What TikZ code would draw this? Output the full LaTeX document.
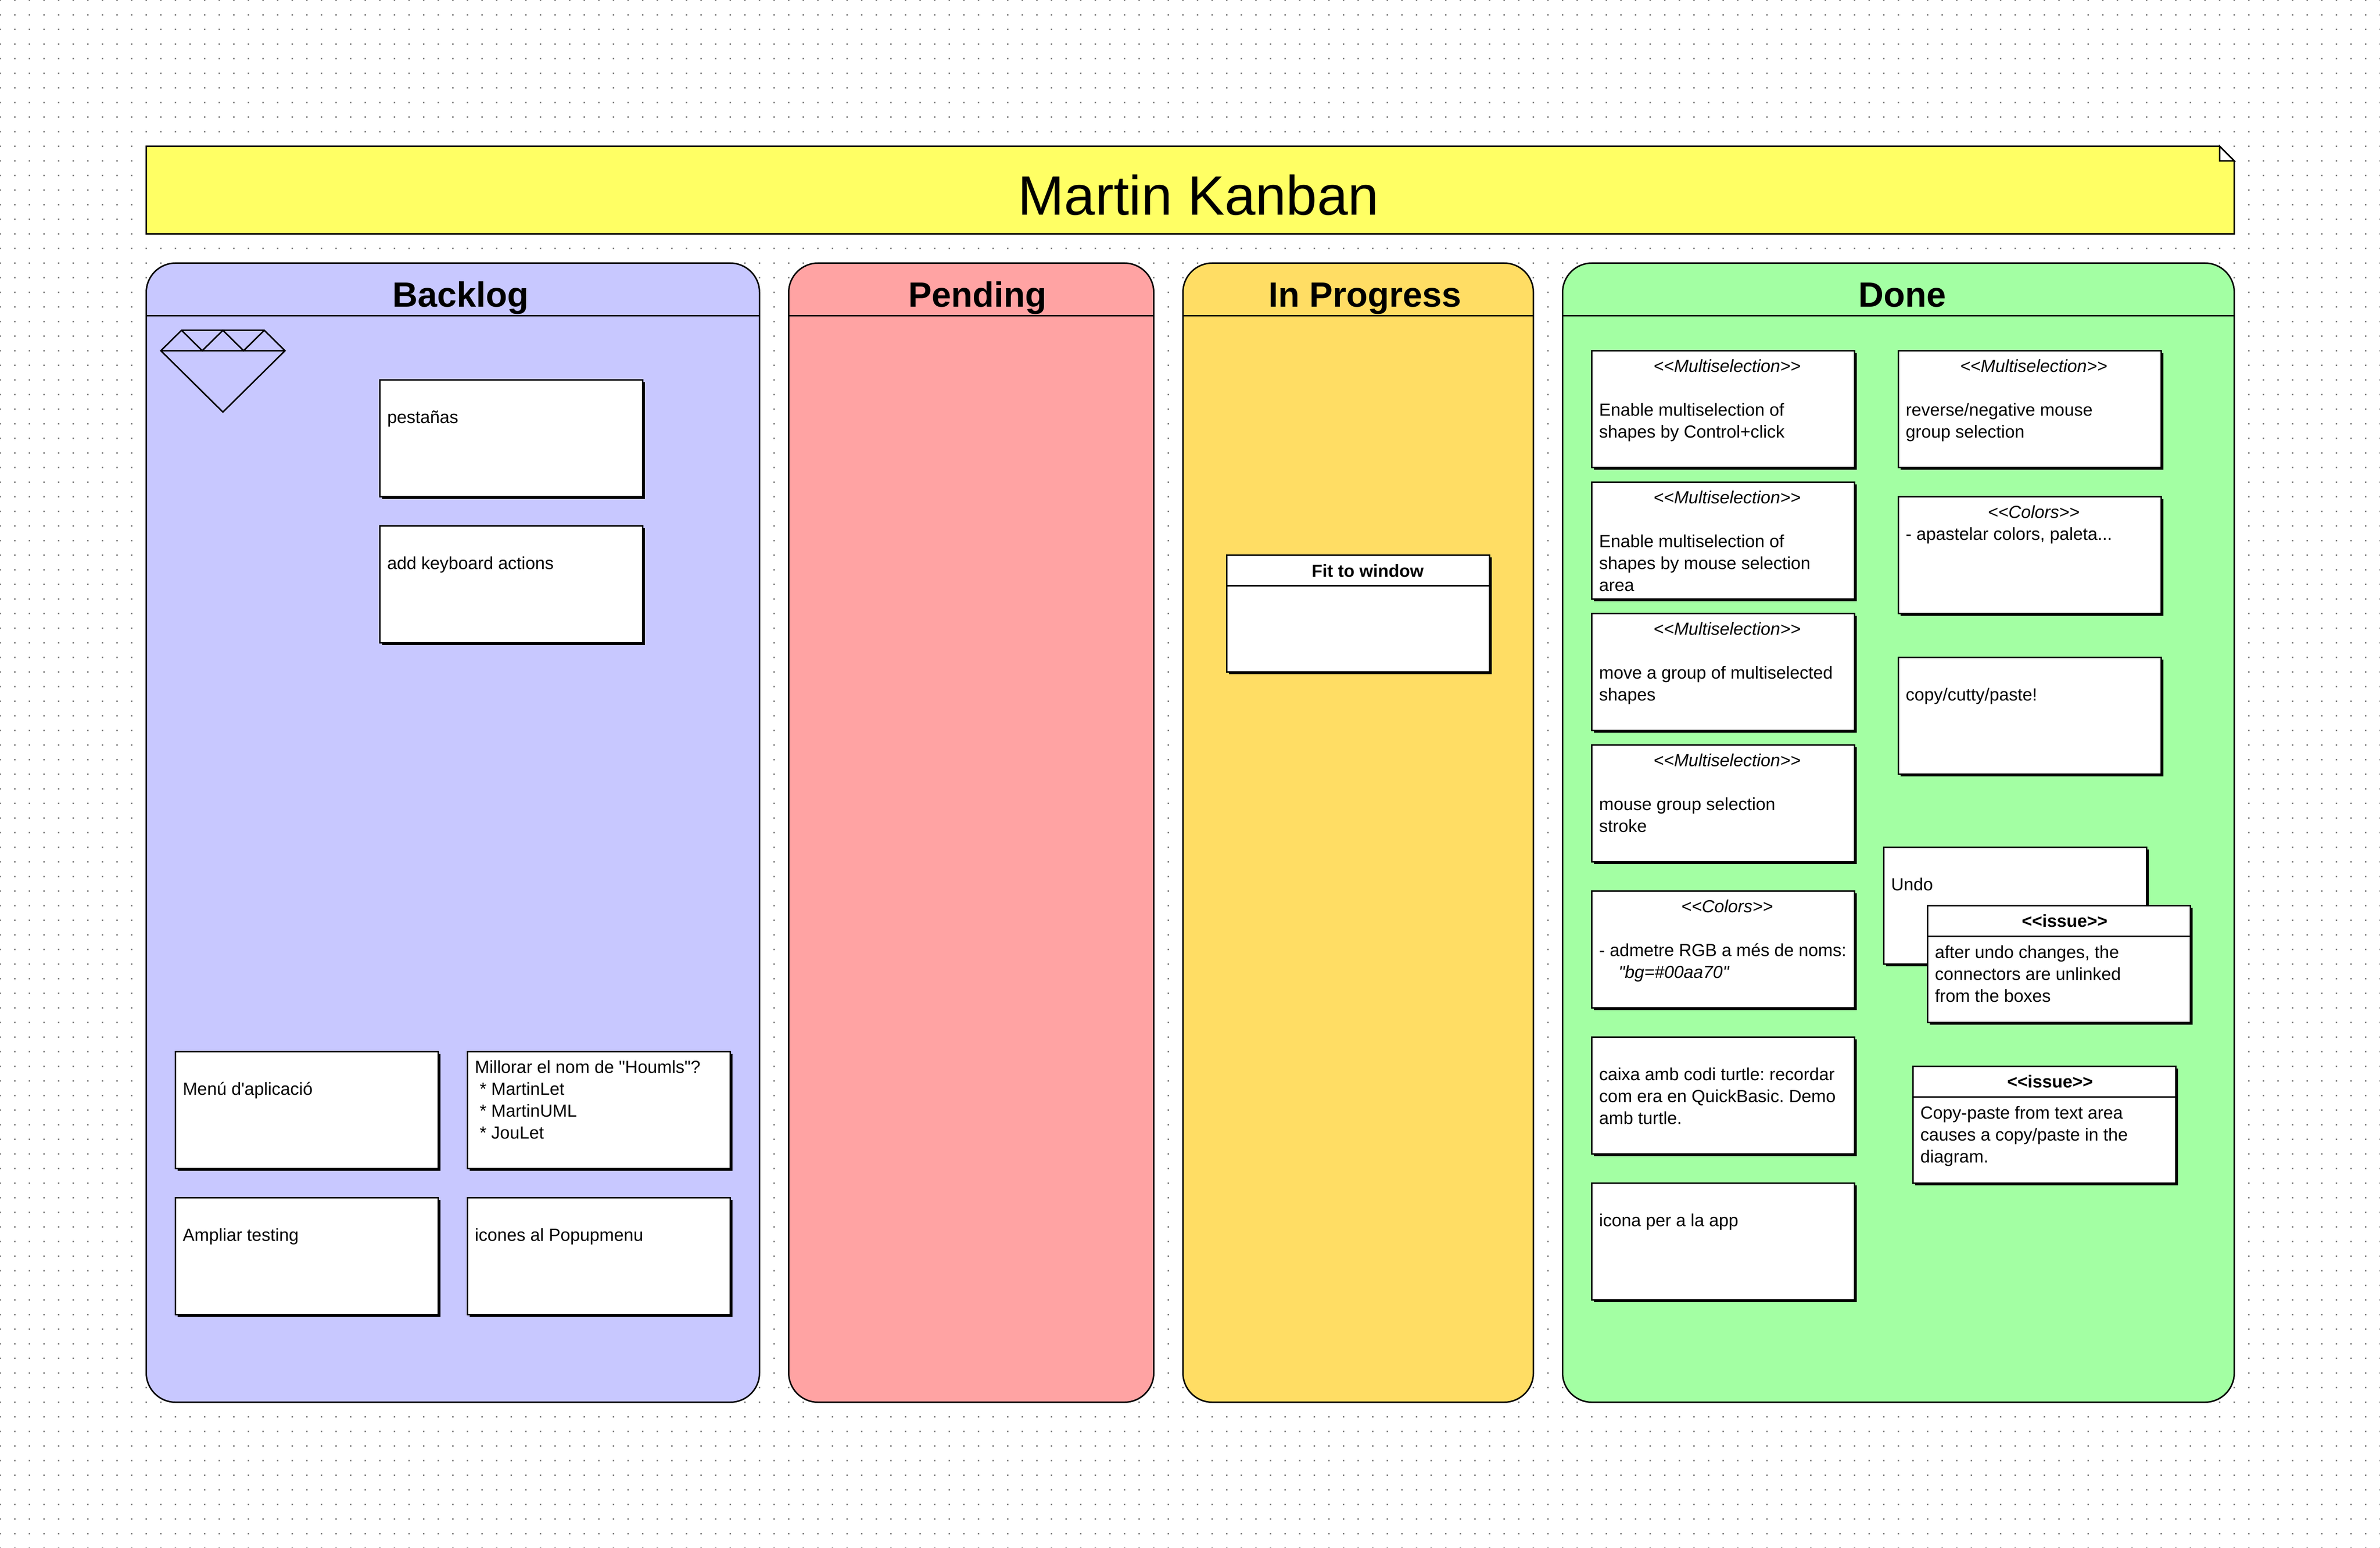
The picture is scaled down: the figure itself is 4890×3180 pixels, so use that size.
\documentclass[tikz,border=0pt]{standalone}
\usepackage{fontspec}
\setmainfont{Liberation Sans}[Ligatures=TeXOff]
\usetikzlibrary{shadows}
\definecolor{bgblue}{RGB}{200,200,255}
\definecolor{bgred}{RGB}{255,163,163}
\definecolor{bggold}{RGB}{255,221,100}
\definecolor{bggreen}{RGB}{163,255,163}
\definecolor{bgnote}{RGB}{255,255,100}
\definecolor{griddot}{RGB}{128,128,128}
\def\px{0.2pt}
\def\firstln{\rule{0pt}{5.6pt}}
\frenchspacing
\tikzset{
  every picture/.style={x=0.2pt,y=-0.2pt},
  line3/.style={draw=black,line width=0.6pt},
  dotrow/.style={griddot,line width=0.6pt,dash pattern=on 0.6pt off 5.4pt},
  column/.style={line3,rounded corners=12pt,anchor=north west,inner sep=0pt,outer sep=0pt},
  cardbox/.style={line3,fill=white,anchor=north west,inner sep=0pt,outer sep=0pt,
    drop shadow={shadow xshift=0.9pt,shadow yshift=-0.9pt,opacity=1,fill=black}},
  cardtext/.style={anchor=north west,inner sep=0pt,outer sep=0pt,align=left,font=\fontsize{7.2}{9}\selectfont},
  stereo/.style={anchor=base,inner sep=0pt,outer sep=0pt,font=\fontsize{7.2}{9}\selectfont\itshape},
  cardhead/.style={anchor=base,inner sep=0pt,outer sep=0pt,font=\fontsize{7.2}{9}\selectfont\bfseries},
  coltitle/.style={anchor=base,inner sep=0pt,outer sep=0pt,font=\fontsize{14.4}{18}\selectfont\bfseries},
  maintitle/.style={anchor=base,inner sep=0pt,outer sep=0pt,font=\fontsize{22.8}{28}\selectfont},
}
\newcommand\colbox[6]{% name x y w h colour
  \node[column,fill=#6,minimum width=#4*\px,minimum height=#5*\px] (#1) at (#2,#3) {};
  \draw[line3] (#2,648) -- (#2+#4,648);
}
\newcommand\card[5]{\node[cardbox,minimum width=#4*\px,minimum height=#5*\px] (#1) at (#2,#3) {};}
\newcommand\ctext[4]{\node[cardtext] (#1) at (#2,#3) {\firstln #4};}
\begin{document}
\begin{tikzpicture}
\path[use as bounding box,fill=white] (0,0) rectangle (4890,3180);
\foreach \yy in {0,30,...,3180} {\draw[dotrow] (-1,\yy+0.5) -- (4892,\yy+0.5);}
\begin{scope}[shift={(0.5,0.5)}]
% title note
\path[line3,fill=bgnote] (300,300) -- (4560,300) -- (4590,330) -- (4590,480) -- (300,480) -- cycle;
\path[line3,fill=white] (4560,300) -- (4590,330) -- (4560,330) -- cycle;
\node[maintitle] (title) at (2462,441) {Martin Kanban};
% columns
\colbox{backlog}{300}{540}{1260}{2340}{bgblue}
\colbox{pending}{1620}{540}{750}{2340}{bgred}
\colbox{inprogress}{2430}{540}{720}{2340}{bggold}
\colbox{done}{3210}{540}{1380}{2340}{bggreen}
\node[coltitle] (tbacklog) at (946,630) {Backlog};
\node[coltitle] (tpending) at (2008,630) {Pending};
\node[coltitle] (tinprogress) at (2804,630) {In Progress};
\node[coltitle] (tdone) at (3908,630) {Done};
% diamond
\draw[line3] (330,720) -- (372.5,678) -- (542.5,678) -- (585,720) -- (457.5,846) -- cycle
  (330,720) -- (585,720)
  (372.5,678) -- (415,720) -- (457.5,678) -- (500,720) -- (542.5,678);
% backlog cards
\card{b1}{780}{780}{540}{240}
\ctext{b1t}{795}{841}{pestañas}
\card{b2}{780}{1080}{540}{240}
\ctext{b2t}{795}{1141}{add keyboard actions}
\card{b3}{360}{2160}{540}{240}
\ctext{b3t}{375}{2221}{Menú d'aplicació}
\card{b4}{960}{2160}{540}{240}
\ctext{b4t}{975}{2176}{Millorar el nom de "Houmls"?\\\ * MartinLet\\\ * MartinUML\\\ * JouLet}
\card{b5}{360}{2460}{540}{240}
\ctext{b5t}{375}{2521}{Ampliar testing}
\card{b6}{960}{2460}{540}{240}
\ctext{b6t}{975}{2521}{icones al Popupmenu}
% in progress
\card{p1}{2520}{1140}{540}{240}
\draw[line3] (2520,1203) -- (3060,1203);
\node[cardhead] (p1h) at (2810,1185) {Fit to window};
% done, left
\card{d1}{3270}{720}{540}{240}
\node[stereo] (d1s) at (3548,764) {<<Multiselection>>};
\ctext{d1t}{3285}{826}{Enable multiselection of\\shapes by Control+click}
\card{d2}{3270}{990}{540}{240}
\node[stereo] (d2s) at (3548,1034) {<<Multiselection>>};
\ctext{d2t}{3285}{1096}{Enable multiselection of\\shapes by mouse selection\\area}
\card{d3}{3270}{1260}{540}{240}
\node[stereo] (d3s) at (3548,1304) {<<Multiselection>>};
\ctext{d3t}{3285}{1366}{move a group of multiselected\\shapes}
\card{d4}{3270}{1530}{540}{240}
\node[stereo] (d4s) at (3548,1574) {<<Multiselection>>};
\ctext{d4t}{3285}{1636}{mouse group selection\\stroke}
\card{d5}{3270}{1830}{540}{240}
\node[stereo] (d5s) at (3548,1874) {<<Colors>>};
\ctext{d5t}{3285}{1936}{- admetre RGB a més de noms:\\\ \ \ \ \textit{"bg=\#00aa70"}}
\card{d6}{3270}{2130}{540}{240}
\ctext{d6t}{3285}{2191}{caixa amb codi turtle: recordar\\com era en QuickBasic. Demo\\amb turtle.}
\card{d7}{3270}{2430}{540}{240}
\ctext{d7t}{3285}{2491}{icona per a la app}
% done, right
\card{e1}{3900}{720}{540}{240}
\node[stereo] (e1s) at (4178,764) {<<Multiselection>>};
\ctext{e1t}{3915}{826}{reverse/negative mouse\\group selection}
\card{e2}{3900}{1020}{540}{240}
\node[stereo] (e2s) at (4178,1064) {<<Colors>>};
\ctext{e2t}{3915}{1081}{- apastelar colors, paleta...}
\card{e3}{3900}{1350}{540}{240}
\ctext{e3t}{3915}{1411}{copy/cutty/paste!}
\card{e4}{3870}{1740}{540}{240}
\ctext{e4t}{3885}{1801}{Undo}
\card{e5}{3960}{1860}{540}{240}
\draw[line3] (3960,1923) -- (4500,1923);
\node[cardhead] (e5h) at (4242,1904) {<<issue>>};
\ctext{e5t}{3975}{1940}{after undo changes, the\\connectors are unlinked\\from the boxes}
\card{e6}{3930}{2190}{540}{240}
\draw[line3] (3930,2253) -- (4470,2253);
\node[cardhead] (e6h) at (4212,2234) {<<issue>>};
\ctext{e6t}{3945}{2270}{Copy-paste from text area\\causes a copy/paste in the\\diagram.}
\end{scope}
\end{tikzpicture}
\end{document}
